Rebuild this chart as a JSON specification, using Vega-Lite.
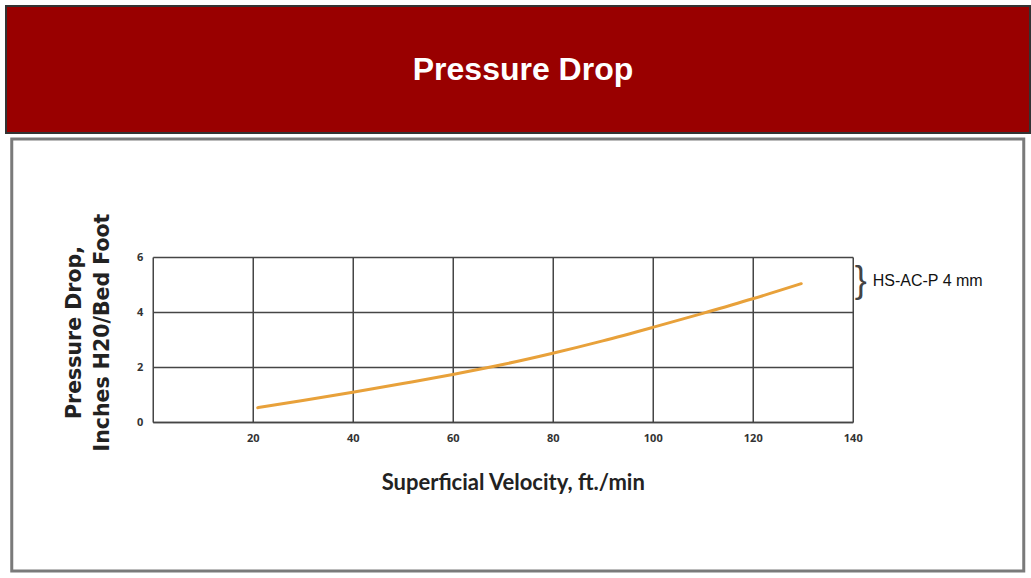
{
  "$schema": "https://vega.github.io/schema/vega-lite/v6.json",
  "background": "white",
  "padding": {"left": 5, "top": 5, "right": 0, "bottom": 0},
  "spacing": 3,
  "center": true,
  "datasets": {
    "banner": [{"heading": "Pressure Drop"}],
    "curve": [
      {"velocity": 21, "pressure_drop": 0.52, "media": "HS-AC-P 4 mm"},
      {"velocity": 30, "pressure_drop": 0.78, "media": "HS-AC-P 4 mm"},
      {"velocity": 40, "pressure_drop": 1.08, "media": "HS-AC-P 4 mm"},
      {"velocity": 50, "pressure_drop": 1.4, "media": "HS-AC-P 4 mm"},
      {"velocity": 60, "pressure_drop": 1.73, "media": "HS-AC-P 4 mm"},
      {"velocity": 70, "pressure_drop": 2.09, "media": "HS-AC-P 4 mm"},
      {"velocity": 80, "pressure_drop": 2.5, "media": "HS-AC-P 4 mm"},
      {"velocity": 90, "pressure_drop": 2.95, "media": "HS-AC-P 4 mm"},
      {"velocity": 100, "pressure_drop": 3.44, "media": "HS-AC-P 4 mm"},
      {"velocity": 110, "pressure_drop": 3.95, "media": "HS-AC-P 4 mm"},
      {"velocity": 120, "pressure_drop": 4.48, "media": "HS-AC-P 4 mm"},
      {"velocity": 129.7, "pressure_drop": 5.03, "media": "HS-AC-P 4 mm"}
    ]
  },
  "vconcat": [
    {
      "width": 1024,
      "height": 127,
      "view": {"fill": "#990000", "stroke": "#333333", "strokeWidth": 2},
      "data": {"name": "banner"},
      "mark": {"type": "text", "font": "Liberation Sans", "fontWeight": "bold", "fontSize": 32, "color": "white", "dx": 5, "baseline": "middle", "align": "center"},
      "encoding": {"text": {"field": "heading"}}
    },
    {
      "width": 1012,
      "height": 432,
      "view": {"fill": "white", "stroke": "#7a7a7a", "strokeWidth": 3},
      "data": {"name": "curve"},
      "resolve": {"axis": {"x": "independent", "y": "independent"}},
      "layer": [
        {
          "mark": {"type": "line", "opacity": 0},
          "encoding": {
            "x": {
              "field": "velocity",
              "type": "quantitative",
              "scale": {"domain": [0, 140], "range": [141, 841], "nice": false, "zero": false},
              "axis": {
                "orient": "top",
                "values": [20, 40, 60, 80, 100, 120, 140],
                "offset": -118,
                "grid": true,
                "gridColor": "#454545",
                "gridWidth": 1.5,
                "gridOpacity": 1,
                "ticks": false,
                "labels": false,
                "domain": false,
                "title": null
              }
            },
            "y": {"field": "pressure_drop", "type": "quantitative", "axis": null}
          }
        },
        {
          "mark": {"type": "line", "interpolate": "monotone", "strokeWidth": 3, "strokeCap": "round", "color": "#E8A13A"},
          "encoding": {
            "x": {
              "field": "velocity",
              "type": "quantitative",
              "axis": {
                "orient": "bottom",
                "values": [20, 40, 60, 80, 100, 120, 140],
                "offset": -149,
                "grid": false,
                "ticks": false,
                "domain": true,
                "domainColor": "#454545",
                "domainWidth": 1.5,
                "labelFont": "Open Sans",
                "labelFontWeight": "bold",
                "labelFontSize": 11,
                "labelColor": "#333333",
                "labelPadding": 10,
                "labelFlush": false,
                "labelOverlap": false,
                "title": "Superficial Velocity, ft./min",
                "titleFont": "Lato",
                "titleFontWeight": "bold",
                "titleFontSize": 22,
                "titleColor": "#222222",
                "titleX": 501,
                "titleY": 67,
                "titleBaseline": "alphabetic",
                "titleAlign": "center"
              }
            },
            "y": {
              "field": "pressure_drop",
              "type": "quantitative",
              "scale": {"domain": [0, 6], "range": [283, 118], "nice": false},
              "axis": {
                "orient": "left",
                "values": [0, 2, 4, 6],
                "offset": -141,
                "grid": true,
                "ticks": false,
                "domain": true,
                "domainColor": "#454545",
                "domainWidth": 1.5,
                "gridColor": "#454545",
                "gridWidth": 1.5,
                "gridOpacity": 1,
                "labelFont": "Open Sans",
                "labelFontWeight": "bold",
                "labelFontSize": 11,
                "labelColor": "#333333",
                "labelPadding": 10,
                "labelFlush": false,
                "title": ["Pressure Drop,", "Inches H20/Bed Foot"],
                "titleFont": "DejaVu Sans",
                "titleFontWeight": "bold",
                "titleFontSize": 20.5,
                "titleLineHeight": 28,
                "titleColor": "#222222",
                "titleAngle": -90,
                "titleX": -72,
                "titleY": 193,
                "titleAlign": "center",
                "titleBaseline": "alphabetic"
              }
            }
          }
        },
        {
          "transform": [{"filter": "datum.velocity > 129"}],
          "mark": {"type": "text", "text": "}", "font": "Liberation Sans", "fontSize": 36, "color": "#444444", "align": "left", "baseline": "middle", "dx": 2},
          "encoding": {
            "x": {"datum": 140, "type": "quantitative", "axis": null},
            "y": {"datum": 5.13, "type": "quantitative", "axis": null}
          }
        },
        {
          "transform": [{"filter": "datum.velocity > 129"}],
          "mark": {"type": "text", "font": "Liberation Sans", "fontSize": 16, "color": "#111111", "align": "left", "baseline": "middle", "dx": 20},
          "encoding": {
            "x": {"datum": 140, "type": "quantitative", "axis": null},
            "y": {"datum": 5.13, "type": "quantitative", "axis": null},
            "text": {"field": "media"}
          }
        }
      ]
    }
  ]
}
